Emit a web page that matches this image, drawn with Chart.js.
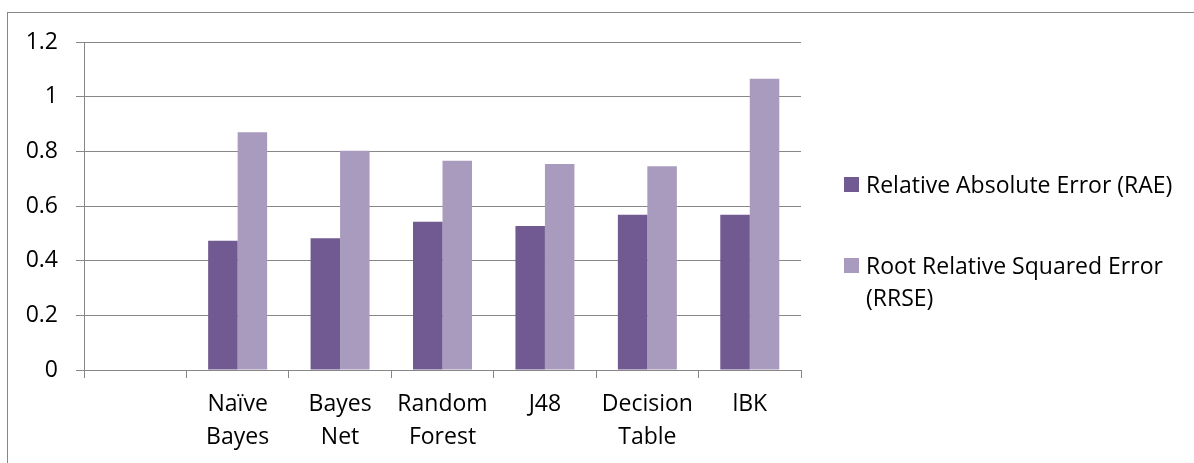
<!DOCTYPE html>
<html>
<head>
<meta charset="utf-8">
<script src="https://cdn.jsdelivr.net/npm/chart.js@4.4.1/dist/chart.umd.min.js"></script>
<style>
  html, body { margin: 0; padding: 0; background: #fff; overflow: hidden; }
  #wrap { position: relative; width: 1194px; height: 463px; overflow: hidden; }
  #frame { position: absolute; left: 7px; top: 12px; width: 1400px; height: 700px; border: 1px solid #878787; box-sizing: border-box; }
  #c { position: absolute; left: 0; top: 0; }
  #legend { position: absolute; left: 844px; top: 168px; font-family: "Open Sans", sans-serif; font-size: 23px; line-height: 32px; color: #000; }
  .item { display: flex; align-items: flex-start; margin-bottom: 49px; }
  .box { width: 15px; height: 15px; margin-top: 9px; margin-right: 7px; flex: none; }
  .txt { width: 330px; }
</style>
</head>
<body>
<div id="wrap">
  <div id="frame"></div>
  <canvas id="c" width="1194" height="463"></canvas>
  <div id="legend"></div>
</div>
<script>
const categories = ["", ["Naïve", "Bayes"], ["Bayes", "Net"], ["Random", "Forest"], ["J48"], ["Decision", "Table"], ["lBK"]];
const raeValues = [null, 0.473, 0.482, 0.542, 0.527, 0.568, 0.568];
const rrseValues = [null, 0.870, 0.802, 0.766, 0.754, 0.745, 1.066];
const seriesNames = ["Relative Absolute Error (RAE)", "Root Relative Squared Error (RRSE)"];
const yTicks = [0, 0.2, 0.4, 0.6, 0.8, 1, 1.2];
const yTickLabels = ["0", "0.2", "0.4", "0.6", "0.8", "1", "1.2"];

const colors = ["#715a91", "#a99bbd"];
const gridColor = "#878787";

Chart.defaults.font.family = "'Open Sans', sans-serif";
Chart.defaults.color = "#000";

const htmlLegend = {
  id: "htmlLegend",
  afterUpdate(chart) {
    const el = document.getElementById("legend");
    el.innerHTML = "";
    chart.data.datasets.forEach((ds) => {
      const item = document.createElement("div");
      item.className = "item";
      const box = document.createElement("span");
      box.className = "box";
      box.style.background = ds.backgroundColor;
      const txt = document.createElement("span");
      txt.className = "txt";
      txt.textContent = ds.label;
      item.appendChild(box);
      item.appendChild(txt);
      el.appendChild(item);
    });
  }
};

new Chart(document.getElementById("c"), {
  type: "bar",
  data: {
    labels: categories,
    datasets: [
      { label: seriesNames[0], data: raeValues, backgroundColor: colors[0], borderWidth: 0 },
      { label: seriesNames[1], data: rrseValues, backgroundColor: colors[1], borderWidth: 0 }
    ]
  },
  options: {
    responsive: false,
    animation: false,
    events: [],
    categoryPercentage: 0.576,
    barPercentage: 1,
    layout: { padding: { left: 0, top: 42, right: 393, bottom: 0 } },
    plugins: { legend: { display: false }, tooltip: { enabled: false } },
    scales: {
      x: {
        grid: { display: true, drawOnChartArea: false, drawTicks: true, tickLength: 8, offset: true, color: gridColor, lineWidth: 1 },
        border: { display: true, color: gridColor, width: 1 },
        ticks: { font: { size: 23, lineHeight: 1.43 }, padding: 10, maxRotation: 0, autoSkip: false },
        afterFit(scale) { scale.height = 93; }
      },
      y: {
        min: 0, max: 1.2,
        afterBuildTicks(scale) { scale.ticks = yTicks.map(v => ({ value: v })); },
        grid: { color: gridColor, lineWidth: 1, tickLength: 8 },
        border: { display: true, color: gridColor, width: 1 },
        ticks: {
          font: { size: 23 }, padding: 18,
          callback(value) { const i = yTicks.indexOf(value); return i >= 0 ? yTickLabels[i] : ""; }
        },
        afterFit(scale) { scale.width = 84; }
      }
    }
  },
  plugins: [htmlLegend]
});
</script>
</body>
</html>
